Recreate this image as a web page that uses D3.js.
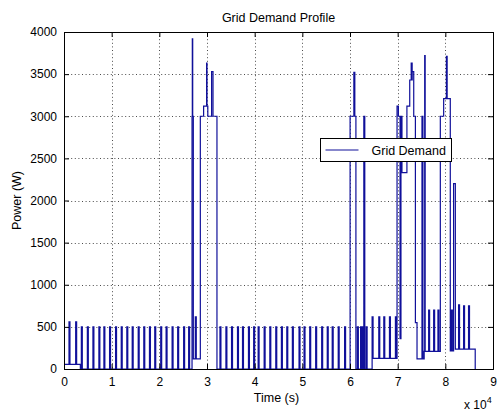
<!DOCTYPE html>
<html>
<head>
<meta charset="utf-8">
<script src="https://cdn.jsdelivr.net/npm/d3@7"></script>
<style>
  html, body { margin: 0; padding: 0; background: #fff; }
  svg { display: block; font-family: "Liberation Sans", Arial, Helvetica, sans-serif; }
</style>
</head>
<body>
<svg id="chart" width="497" height="412"></svg>
<script>
// Grid demand over one day (seconds), step profile in watts.

// Underlying load levels: each value holds from its time until the next change.
const levelTimes  = [0, 3430, 26860, 27130, 28600, 29290, 30170, 32090,
                     60020, 61240, 64640, 69870, 70150, 70500, 70690, 70900,
                     71940, 72530, 73050, 73370, 73720, 74060, 75560, 78950,
                     79650, 81040, 81730, 82100, 86270, 86400];
const levelValues = [55, 0, 3000, 120, 3000, 3120, 3000, 0,
                     3000, 0, 127, 3120, 3000, 360, 3000, 2330,
                     3120, 3430, 3530, 3000, 550, 120, 210, 3000,
                     3210, 215, 2200, 235, 0, 0];

// Short appliance cycles (fixed duration) on top of the levels above.
const cycleTimes = [1050, 2450,
  3640, 4900, 6070, 7320, 8370, 9560, 10820, 12010, 13180, 14310,
  15570, 16740, 17930, 19040, 20290, 21420, 22680, 23850, 25100, 26150,
  32720, 33970, 35150, 36400, 37450, 38700, 39790, 40730, 41990, 43180,
  44430, 45610, 46740, 47910, 49310, 50360, 51550, 52800, 54060, 55230,
  56270, 57530, 58870,
  61550, 62220, 62600, 62900, 63390,
  64640, 66040, 67090, 68280, 69530,
  76500, 77550, 78450, 81270, 82780, 83830, 84870];
const cyclePeaks = [560, 560,
  500, 500, 500, 500, 500, 500, 500, 500, 500, 500,
  500, 500, 500, 500, 500, 500, 500, 500, 500, 500,
  500, 500, 500, 500, 500, 500, 500, 500, 500, 500,
  500, 500, 500, 500, 500, 500, 500, 500, 500, 500,
  500, 500, 500,
  500, 500, 500, 3000, 500,
  620, 620, 620, 620, 620,
  700, 700, 700, 700, 760, 750, 750];
const cycleLength = 200;

// Brief peaks with their own durations.
const spikeTimes   = [26920, 27550, 29920, 30960, 60810, 72840, 75100, 75670, 80230];
const spikeLengths = [80, 200, 80, 300, 200, 200, 200, 100, 150];
const spikePeaks   = [3920, 620, 3630, 3530, 3520, 3630, 3000, 3720, 3710];

const xTicks = [0, 10000, 20000, 30000, 40000, 50000, 60000, 70000, 80000, 90000];
const yTicks = [0, 500, 1000, 1500, 2000, 2500, 3000, 3500, 4000];

const chartTitle = "Grid Demand Profile";
const xTitle = "Time (s)";
const yTitle = "Power (W)";
const seriesName = "Grid Demand";

// Merge levels and pulses into one step series.
const pulses = cycleTimes.map((t, i) => ({ start: t, end: t + cycleLength, peak: cyclePeaks[i] }))
  .concat(spikeTimes.map((t, i) => ({ start: t, end: t + spikeLengths[i], peak: spikePeaks[i] })));

const changeTimes = Array.from(new Set(
  levelTimes.concat(pulses.map(p => p.start), pulses.map(p => p.end))
)).sort((a, b) => a - b);

const levelAt = t => {
  let v = levelValues[0];
  for (let i = 0; i < levelTimes.length; i++) if (levelTimes[i] <= t) v = levelValues[i];
  return v;
};
const valueAt = t => {
  let v = levelAt(t);
  for (const p of pulses) if (p.start <= t && t < p.end) v = p.peak;
  return v;
};
const series = changeTimes.map(t => ({ t, v: valueAt(t) }));

// Layout
const svg = d3.select("#chart");
const plotLeft = 64, plotRight = 493, plotTop = 32, plotBottom = 369;
const lineColor = "#10109a";

const x = d3.scaleLinear().domain([0, 90000]).range([plotLeft, plotRight]);
const y = d3.scaleLinear().domain([0, 4000]).range([plotBottom, plotTop]);

// Dotted grid
const grid = svg.append("g").attr("stroke", "#000").attr("stroke-width", 1)
  .attr("stroke-dasharray", "1,2.6").attr("opacity", 0.7);
grid.selectAll("line.gx").data(xTicks.slice(1, -1)).join("line")
  .attr("x1", d => Math.round(x(d)) + 0.5).attr("x2", d => Math.round(x(d)) + 0.5)
  .attr("y1", plotTop).attr("y2", plotBottom);
grid.selectAll("line.gy").data(yTicks.slice(1, -1)).join("line")
  .attr("y1", d => Math.round(y(d)) + 0.5).attr("y2", d => Math.round(y(d)) + 0.5)
  .attr("x1", plotLeft).attr("x2", plotRight);

// Demand line
const line = d3.line().x(d => x(d.t)).y(d => y(d.v)).curve(d3.curveStepAfter);
svg.append("path").datum(series)
  .attr("fill", "none").attr("stroke", lineColor).attr("stroke-width", 1.2)
  .attr("d", line);

// Axes (inward ticks, boxed)
const tickLen = 5;
const xAxis = d3.axisBottom(x).tickValues(xTicks).tickSize(-tickLen).tickPadding(8)
  .tickFormat(d => d / 10000);
const yAxis = d3.axisLeft(y).tickValues(yTicks).tickSize(-tickLen).tickPadding(7)
  .tickFormat(d3.format("d"));

const gx = svg.append("g").attr("transform", `translate(0,${plotBottom})`).call(xAxis);
const gy = svg.append("g").attr("transform", `translate(${plotLeft},0)`).call(yAxis);
const gxTop = svg.append("g").attr("transform", `translate(0,${plotTop})`)
  .call(d3.axisTop(x).tickValues(xTicks).tickSize(-tickLen).tickFormat(""));
const gyRight = svg.append("g").attr("transform", `translate(${plotRight},0)`)
  .call(d3.axisRight(y).tickValues(yTicks).tickSize(-tickLen).tickFormat(""));

[gx, gy, gxTop, gyRight].forEach(g => {
  g.select(".domain").attr("stroke", "#000");
  g.selectAll(".tick line").attr("stroke", "#000");
  g.selectAll("text").attr("fill", "#000").attr("font-size", 12)
    .attr("font-family", "Liberation Sans, Arial, sans-serif");
});

// Titles
svg.append("text").attr("x", (plotLeft + plotRight) / 2).attr("y", 22)
  .attr("text-anchor", "middle").attr("font-size", 12.5).text(chartTitle);
svg.append("text").attr("x", (plotLeft + plotRight) / 2 - 2).attr("y", 402)
  .attr("text-anchor", "middle").attr("font-size", 12.5).text(xTitle);
svg.append("text").attr("transform", `translate(21,${(plotTop + plotBottom) / 2}) rotate(-90)`)
  .attr("text-anchor", "middle").attr("font-size", 12.5).text(yTitle);

// Exponent note for the time axis
const expo = svg.append("text").attr("x", 464).attr("y", 409).attr("font-size", 12);
expo.append("tspan").text("x 10");
expo.append("tspan").attr("dy", -6).attr("font-size", 9).text("4");

// Legend
const lg = svg.append("g").attr("transform", "translate(320.5,138.5)");
lg.append("rect").attr("width", 131).attr("height", 23)
  .attr("fill", "#fff").attr("stroke", "#000");
lg.append("line").attr("x1", 5).attr("x2", 38).attr("y1", 11.5).attr("y2", 11.5)
  .attr("stroke", lineColor).attr("stroke-width", 1.2);
lg.append("text").attr("x", 51).attr("y", 16).attr("font-size", 12.5).text(seriesName);
</script>
</body>
</html>
